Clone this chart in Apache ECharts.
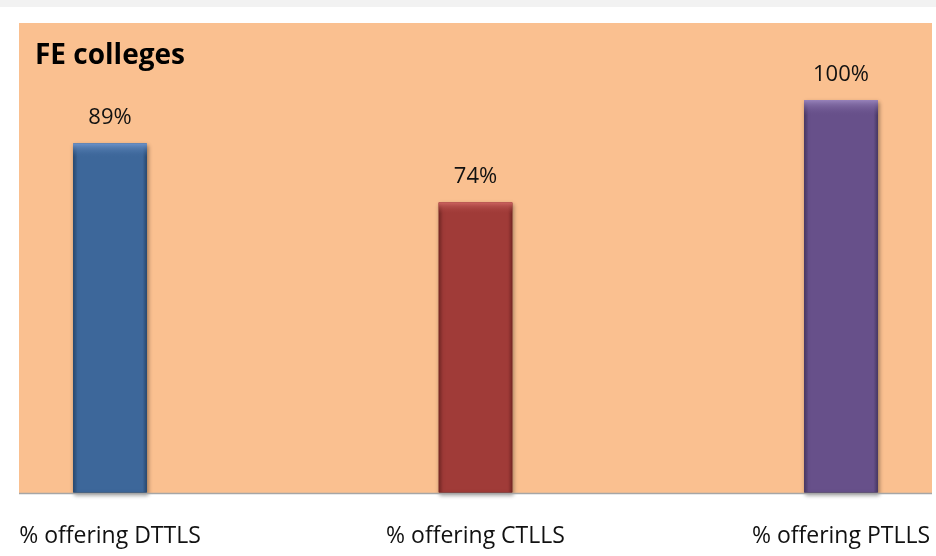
<!DOCTYPE html>
<html><head><meta charset="utf-8">
<script src="https://cdn.jsdelivr.net/npm/echarts@6/dist/echarts.min.js"></script>
<style>html,body{margin:0;padding:0;background:#fff}#c{width:936px;height:556px}</style>
</head><body><div id="c"></div>
<script>
const categories = ['% offering DTTLS', '% offering CTLLS', '% offering PTLLS'];
const values = [89, 74, 100];
const colors = ['#3d679a', '#a03b38', '#67508a'];
const lightColors = ['#6f95cc', '#d06663', '#9883bb'];
const darkColors = ['#2b4c74', '#7a2826', '#4b3a66'];
const title = 'FE colleges';

const chart = echarts.init(document.getElementById('c'));
const font = '"Open Sans", "Liberation Sans", sans-serif';
chart.setOption({
  backgroundColor: '#ffffff',
  animation: false,
  graphic: [
    { type: 'rect', shape: { x: 0, y: 0, width: 936, height: 7 }, style: { fill: '#f2f2f2' }, z: -10 },
    { type: 'rect', shape: { x: 19, y: 23, width: 913, height: 470 }, style: { fill: '#fac090' }, z: -5 },
    { type: 'line', shape: { x1: 19, y1: 493.5, x2: 932, y2: 493.5 }, style: { stroke: '#a6a6a6', lineWidth: 1.5 }, z: 5 },
    { type: 'text', left: 35, top: 42, style: { text: title, font: 'bold 28px ' + font, fill: '#000' }, z: 10 }
  ],
  grid: { left: 110, right: 95, top: 100, bottom: 63 },
  xAxis: {
    type: 'category', data: categories, boundaryGap: false,
    axisLine: { show: false }, axisTick: { show: false },
    axisLabel: { fontFamily: font, fontSize: 23, color: '#111', margin: 32, interval: 0 }
  },
  yAxis: { type: 'value', min: 0, max: 100, show: false, splitLine: { show: false } },
  series: [{
    type: 'bar', barWidth: 74,
    data: values.map((v, i) => ({
      value: v,
      itemStyle: {
        color: { type: 'linear', x: 0, y: 0, x2: 1, y2: 0, colorStops: [
          { offset: 0, color: darkColors[i] }, { offset: 0.06, color: colors[i] },
          { offset: 0.94, color: colors[i] }, { offset: 1, color: darkColors[i] }] },
        borderColor: darkColors[i], borderWidth: 1,
        shadowColor: 'rgba(0,0,0,0.35)', shadowBlur: 4, shadowOffsetX: 1, shadowOffsetY: 2
      }
    })),
    label: { show: true, position: 'top', distance: 14, formatter: '{c}%', fontFamily: font, fontSize: 22, color: '#111' }
  }, {
    type: 'bar', barWidth: 74, barGap: '-100%', silent: true,
    data: values.map((v, i) => ({
      value: v,
      itemStyle: {
        color: { type: 'linear', x: 0, y: 0, x2: 0, y2: 1, colorStops: [
          { offset: 0, color: lightColors[i] }, { offset: 0.04, color: colors[i] + '00' }, { offset: 1, color: colors[i] + '00' }] }
      }
    }))
  }]
});
</script></body></html>
